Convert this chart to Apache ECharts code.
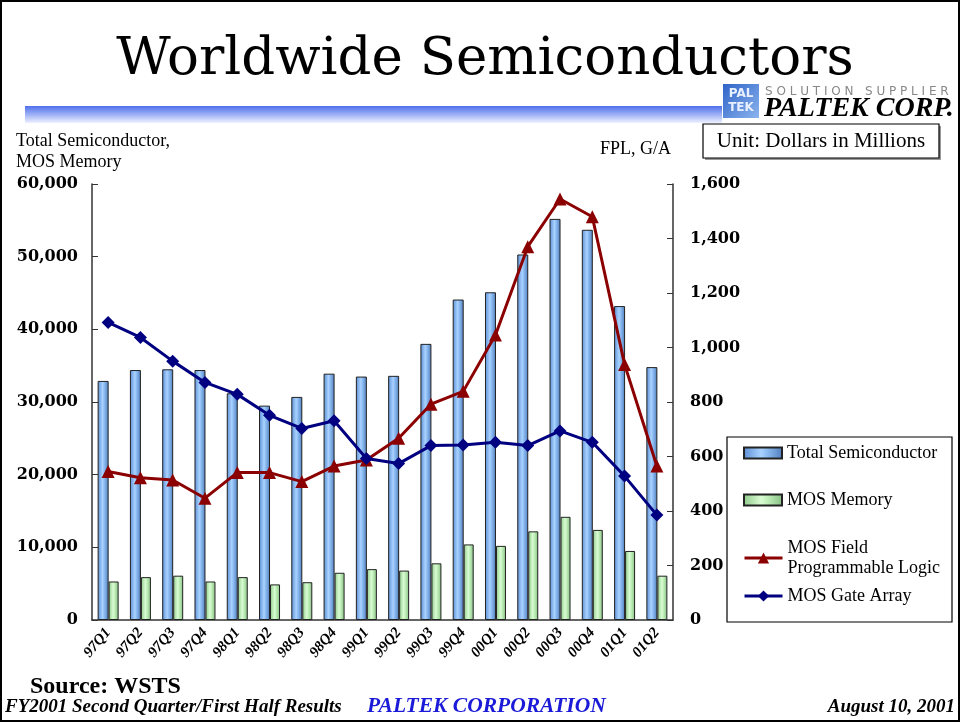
<!DOCTYPE html>
<html lang="en">
<head>
    <meta charset="UTF-8">
    <title>Worldwide Semiconductors</title>
    <script src="https://cdn.jsdelivr.net/npm/echarts@6/dist/echarts.min.js"></script>
    <style>
        body { margin: 0; background: #fff; }
        #chart { width: 960px; height: 722px; }
    </style>
</head>
<body>
<div id="chart"></div>
<script type="text/javascript">
    // quarters
    var categories = ['97Q1', '97Q2', '97Q3', '97Q4', '98Q1', '98Q2', '98Q3', '98Q4', '99Q1',
        '99Q2', '99Q3', '99Q4', '00Q1', '00Q2', '00Q3', '00Q4', '01Q1', '01Q2'];
    // left axis (millions)
    var totalSemi = [32900, 34400, 34500, 34400, 31200, 29500, 30700, 33900, 33500,
        33600, 38000, 44100, 45100, 50300, 55200, 53700, 43200, 34800];
    var mosMemory = [5300, 5900, 6100, 5300, 5900, 4900, 5200, 6500, 7000,
        6800, 7800, 10400, 10200, 12200, 14200, 12400, 9500, 6100];
    // right axis (millions)
    var fpl = [545, 522, 514, 447, 541, 541, 508, 565, 587,
        667, 792, 839, 1046, 1370, 1545, 1480, 938, 565];
    var gateArray = [1092, 1037, 950, 872, 828, 751, 703, 731, 593,
        574, 640, 642, 652, 640, 694, 652, 528, 385];

    var serif = 'Liberation Serif';
    var chart = echarts.init(document.getElementById('chart'));

    var blueBar = new echarts.graphic.LinearGradient(0, 0, 1, 0, [
        {offset: 0, color: '#5a8dd4'},
        {offset: 0.45, color: '#a9d2ff'},
        {offset: 0.6, color: '#8dbcf2'},
        {offset: 1, color: '#4f7dbd'}
    ]);
    var greenBar = new echarts.graphic.LinearGradient(0, 0, 1, 0, [
        {offset: 0, color: '#8fc98a'},
        {offset: 0.45, color: '#d8fcd2'},
        {offset: 0.6, color: '#c2f0bc'},
        {offset: 1, color: '#86bf82'}
    ]);

    function legendAt(name, top, icon) {
        return {
            data: [{name: name, icon: icon}],
            left: 738,
            top: top,
            itemWidth: 38,
            itemHeight: icon === 'rect' ? 11 : 14,
            itemGap: 5,
            lineStyle: {width: 3},
            textStyle: {fontFamily: serif, fontSize: 18, color: '#000', lineHeight: 20},
            formatter: function (n) {
                return n === 'MOS Field Programmable Logic' ? 'MOS Field\nProgrammable Logic' : n;
            }
        };
    }

    var option = {
        animation: false,
        grid: {left: 92, right: 287, top: 184, bottom: 102},
        legend: [
            legendAt('Total Semiconductor', 438, 'rect'),
            legendAt('MOS Memory', 485, 'rect'),
            legendAt('MOS Field Programmable Logic', 533),
            legendAt('MOS Gate Array', 581)
        ],
        xAxis: {
            type: 'category',
            data: categories,
            axisLine: {lineStyle: {color: '#333', width: 1.5}},
            axisTick: {inside: true, length: 4, lineStyle: {color: '#333'}},
            axisLabel: {
                rotate: 50, margin: 10, color: '#000',
                fontFamily: serif, fontWeight: 'bold', fontStyle: 'italic', fontSize: 15
            }
        },
        yAxis: [
            {
                type: 'value', min: 0, max: 60000, interval: 10000,
                splitLine: {show: false},
                axisLine: {show: true, lineStyle: {color: '#333', width: 1.5}},
                axisTick: {show: true, inside: true, length: 6, lineStyle: {color: '#333'}},
                axisLabel: {margin: 14, color: '#000', fontFamily: 'DejaVu Serif', fontWeight: 'bold', fontSize: 16}
            },
            {
                type: 'value', min: 0, max: 1600, interval: 200, position: 'right',
                splitLine: {show: false},
                axisLine: {show: true, lineStyle: {color: '#333', width: 1.5}},
                axisTick: {show: true, inside: true, length: 6, lineStyle: {color: '#333'}},
                axisLabel: {margin: 17, color: '#000', fontFamily: 'DejaVu Serif', fontWeight: 'bold', fontSize: 16}
            }
        ],
        series: [
            {
                name: 'Total Semiconductor', type: 'bar', barWidth: 11, barGap: '0%',
                itemStyle: {color: blueBar, borderColor: '#222', borderWidth: 1},
                data: totalSemi
            },
            {
                name: 'MOS Memory', type: 'bar', barWidth: 10,
                itemStyle: {color: greenBar, borderColor: '#222', borderWidth: 1},
                data: mosMemory
            },
            {
                name: 'MOS Field Programmable Logic', type: 'line', yAxisIndex: 1,
                symbol: 'triangle', symbolSize: 13,
                lineStyle: {color: '#8b0000', width: 3},
                itemStyle: {color: '#8b0000'},
                data: fpl, z: 5
            },
            {
                name: 'MOS Gate Array', type: 'line', yAxisIndex: 1,
                symbol: 'diamond', symbolSize: 13,
                lineStyle: {color: '#000080', width: 3},
                itemStyle: {color: '#000080'},
                data: gateArray, z: 6
            }
        ],
        graphic: [
            // frame
            {type: 'rect', shape: {x: 1, y: 1, width: 958, height: 720},
                style: {fill: 'none', stroke: '#000', lineWidth: 2}, z: 100},
            // title
            {type: 'text', style: {text: 'Worldwide Semiconductors', x: 485, y: 60,
                    align: 'center', verticalAlign: 'middle', font: '53px "DejaVu Serif"', fill: '#000'}},
            // blue band under title
            {type: 'rect', shape: {x: 25, y: 106, width: 697, height: 17},
                style: {fill: new echarts.graphic.LinearGradient(0, 0, 0, 1, [
                        {offset: 0, color: '#4f70ec'}, {offset: 1, color: '#eef1ff'}])}},
            // logo
            {type: 'rect', shape: {x: 723, y: 84, width: 36, height: 34},
                style: {fill: new echarts.graphic.LinearGradient(0, 0, 1, 1, [
                        {offset: 0, color: '#2f63c8'}, {offset: 1, color: '#8bb4ee'}])}},
            {type: 'text', style: {text: 'PAL\nTEK', x: 741, y: 101, align: 'center', verticalAlign: 'middle',
                    font: 'bold 12px "DejaVu Sans"', fill: '#e8f0ff', lineHeight: 14}},
            {type: 'text', style: {text: 'S O L U T I O N   S U P P L I E R', x: 765, y: 92, verticalAlign: 'middle',
                    font: '12px "DejaVu Sans"', fill: '#888'}},
            {type: 'text', style: {text: 'PALTEK CORP.', x: 764, y: 109, verticalAlign: 'middle',
                    font: 'italic bold 28px "Liberation Serif"', fill: '#000'}},
            // unit box
            {type: 'rect', shape: {x: 705, y: 126, width: 236, height: 34}, style: {fill: '#999'}},
            {type: 'rect', shape: {x: 703, y: 124, width: 236, height: 34},
                style: {fill: '#fff', stroke: '#000', lineWidth: 1.2}},
            {type: 'text', style: {text: 'Unit: Dollars in Millions', x: 821, y: 141, align: 'center',
                    verticalAlign: 'middle', font: '21px "Liberation Serif"', fill: '#000'}},
            // axis titles
            {type: 'text', style: {text: 'Total Semiconductor,', x: 16, y: 141, verticalAlign: 'middle',
                    font: '18px "Liberation Serif"', fill: '#000'}},
            {type: 'text', style: {text: 'MOS Memory', x: 16, y: 162, verticalAlign: 'middle',
                    font: '18px "Liberation Serif"', fill: '#000'}},
            {type: 'text', style: {text: 'FPL, G/A', x: 600, y: 149, verticalAlign: 'middle',
                    font: '18px "Liberation Serif"', fill: '#000'}},
            // legend frame
            {type: 'rect', shape: {x: 727, y: 437, width: 225, height: 185},
                style: {fill: '#fff', stroke: '#000', lineWidth: 1.2}, z: -1},
            // footer
            {type: 'text', style: {text: 'Source: WSTS', x: 30, y: 687, verticalAlign: 'middle',
                    font: 'bold 24px "Liberation Serif"', fill: '#000'}},
            {type: 'text', style: {text: 'FY2001 Second Quarter/First Half Results', x: 5, y: 707,
                    verticalAlign: 'middle', font: 'italic bold 19px "Liberation Serif"', fill: '#000'}},
            {type: 'text', style: {text: 'PALTEK CORPORATION', x: 367, y: 706, verticalAlign: 'middle',
                    font: 'italic bold 21.5px "Liberation Serif"', fill: '#1a1ad8'}},
            {type: 'text', style: {text: 'August 10, 2001', x: 955, y: 707, align: 'right',
                    verticalAlign: 'middle', font: 'italic bold 19px "Liberation Serif"', fill: '#000'}}
        ]
    };
    chart.setOption(option);
</script>
</body>
</html>
